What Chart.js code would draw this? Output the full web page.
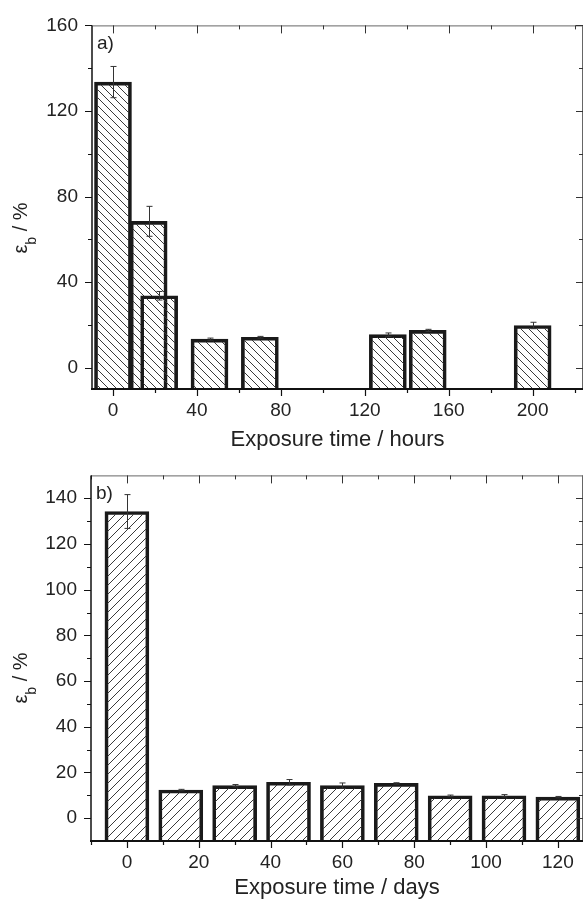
<!DOCTYPE html>
<html>
<head>
<meta charset="utf-8">
<script src="https://cdn.jsdelivr.net/npm/chart.js@4"></script>
<style>
body { margin: 0; background: #fff; }
canvas { display: block; }
</style>
</head>
<body>
<canvas id="chartA" width="584" height="450"></canvas>
<canvas id="chartB" width="584" height="449"></canvas>
<script>
// panel a) exposure in hours
const hoursX = [0, 17, 22, 46, 70, 131, 150, 200];
const hoursStrain = [133.5, 68.4, 33.6, 13.3, 14.2, 15.4, 17.4, 19.7];
const hoursError = [7.3, 7.0, 2.0, 0.5, 0.4, 0.8, 0.5, 1.5];
const hoursMajorX = [0, 40, 80, 120, 160, 200];
const hoursMinorX = [20, 60, 100, 140, 180, 220];
const hoursMajorY = [0, 40, 80, 120, 160];
const hoursMinorY = [20, 60, 100, 140];

// panel b) exposure in days
const daysX = [0, 15, 30, 45, 60, 75, 90, 105, 120];
const daysStrain = [134.2, 12.3, 14.2, 15.7, 14.2, 15.2, 9.8, 9.8, 9.2];
const daysError = [7.4, 0.3, 0.5, 1.2, 1.2, 0.3, 0.3, 0.5, 0.3];
const daysMajorX = [0, 20, 40, 60, 80, 100, 120];
const daysMinorX = [-10, 10, 30, 50, 70, 90, 110];
const daysMajorY = [0, 20, 40, 60, 80, 100, 120, 140];
const daysMinorY = [10, 30, 50, 70, 90, 110, 130];

Chart.defaults.font.family = "'Liberation Sans', Arial, sans-serif";
Chart.defaults.color = "#222";

function hatch(canvas, size, dir) {
    const c = document.createElement("canvas");
    c.width = size;
    c.height = size;
    const g = c.getContext("2d");
    g.strokeStyle = "#3a3a3a";
    g.lineWidth = 1;
    g.beginPath();
    for (let k = -1; k <= 1; k++) {
        if (dir === "back") {
            g.moveTo(k * size, 0);
            g.lineTo(k * size + size, size);
        } else {
            g.moveTo(k * size, size);
            g.lineTo(k * size + size, 0);
        }
    }
    g.stroke();
    return canvas.getContext("2d").createPattern(c, "repeat");
}

const framePlugin = {
    id: "frame",
    afterDatasetsDraw(chart, args, opts) {
        const ctx = chart.ctx;
        const xs = chart.scales.x, ys = chart.scales.y;
        ctx.save();
        ctx.strokeStyle = "#333";
        ctx.lineWidth = 1;
        opts.errors.forEach((e, i) => {
            const d = chart.data.datasets[0].data[i];
            const px = Math.round(xs.getPixelForValue(d.x)) + 0.5;
            const y1 = ys.getPixelForValue(d.y + e);
            const y2 = ys.getPixelForValue(d.y - e);
            ctx.beginPath();
            ctx.moveTo(px, y1); ctx.lineTo(px, y2);
            ctx.moveTo(px - 3, y1); ctx.lineTo(px + 3, y1);
            ctx.moveTo(px - 3, y2); ctx.lineTo(px + 3, y2);
            ctx.stroke();
        });
        ctx.restore();
    },
    afterDraw(chart, args, opts) {
        const ctx = chart.ctx;
        const { left, right, top, bottom } = chart.chartArea;
        const xs = chart.scales.x, ys = chart.scales.y;
        ctx.save();

        // top and right frame, lighter
        ctx.strokeStyle = "#666";
        ctx.lineWidth = 1;
        ctx.beginPath();
        ctx.moveTo(left, top + 0.5); ctx.lineTo(right, top + 0.5);
        ctx.moveTo(right - 0.5, top); ctx.lineTo(right - 0.5, bottom);
        ctx.stroke();

        // ticks pointing in on top / right
        ctx.strokeStyle = "#333";
        ctx.beginPath();
        opts.majorX.forEach(v => { const p = Math.round(xs.getPixelForValue(v)) + 0.5; ctx.moveTo(p, top); ctx.lineTo(p, top + 8); });
        opts.minorX.forEach(v => { const p = Math.round(xs.getPixelForValue(v)) + 0.5; ctx.moveTo(p, top); ctx.lineTo(p, top + 4); });
        opts.majorY.forEach(v => { const p = Math.round(ys.getPixelForValue(v)) + 0.5; ctx.moveTo(right, p); ctx.lineTo(right - 7, p); });
        opts.minorY.forEach(v => { const p = Math.round(ys.getPixelForValue(v)) + 0.5; ctx.moveTo(right, p); ctx.lineTo(right - 4, p); });
        ctx.stroke();

        // left and bottom axes
        ctx.strokeStyle = "#111";
        ctx.lineWidth = 1.5;
        ctx.beginPath();
        ctx.moveTo(left, top); ctx.lineTo(left, bottom);
        ctx.stroke();
        ctx.lineWidth = 2;
        ctx.beginPath();
        ctx.moveTo(left - 1, bottom); ctx.lineTo(right, bottom);
        ctx.stroke();

        ctx.lineWidth = 1.2;
        ctx.beginPath();
        opts.majorX.forEach(v => { const p = Math.round(xs.getPixelForValue(v)) + 0.5; ctx.moveTo(p, bottom); ctx.lineTo(p, bottom + 7); });
        opts.minorX.forEach(v => { const p = Math.round(xs.getPixelForValue(v)) + 0.5; ctx.moveTo(p, bottom); ctx.lineTo(p, bottom + 4); });
        opts.majorY.forEach(v => { const p = Math.round(ys.getPixelForValue(v)) + 0.5; ctx.moveTo(left, p); ctx.lineTo(left - 7, p); });
        opts.minorY.forEach(v => { const p = Math.round(ys.getPixelForValue(v)) + 0.5; ctx.moveTo(left, p); ctx.lineTo(left - 4, p); });
        ctx.stroke();

        // texts
        ctx.fillStyle = "#222";
        ctx.font = "19px 'Liberation Sans', Arial, sans-serif";
        ctx.textAlign = "left";
        ctx.textBaseline = "alphabetic";
        ctx.fillText(opts.panel, left + 5, top + 24);

        ctx.font = "22px 'Liberation Sans', Arial, sans-serif";
        ctx.textAlign = "center";
        ctx.fillText(opts.xTitle, (left + right) / 2, opts.xTitleY);

        // y title: epsilon with subscript b
        ctx.translate(27, opts.yTitleY);
        ctx.rotate(-Math.PI / 2);
        ctx.textAlign = "left";
        const big = "20px 'Liberation Sans', Arial, sans-serif";
        const small = "14px 'Liberation Sans', Arial, sans-serif";
        ctx.font = big;
        const w1 = ctx.measureText("ε").width;
        const w3 = ctx.measureText(" / %").width;
        ctx.font = small;
        const w2 = ctx.measureText("b").width;
        let x0 = -(w1 + w2 + w3) / 2;
        ctx.font = big;
        ctx.fillText("ε", x0, 0);
        ctx.font = small;
        ctx.fillText("b", x0 + w1, 9);
        ctx.font = big;
        ctx.fillText(" / %", x0 + w1 + w2, 0);

        ctx.restore();
    }
};

function createPanel(canvasId, xValues, yValues, errors, cfg) {
    const canvas = document.getElementById(canvasId);
    return new Chart(canvas, {
        type: "bar",
        data: {
            datasets: [{
                data: xValues.map((x, i) => ({ x: x, y: yValues[i] })),
                base: cfg.yMin,
                backgroundColor: hatch(canvas, cfg.hatchSize, cfg.hatchDir),
                borderColor: "#1a1a1a",
                borderWidth: 3,
                barThickness: cfg.barPx
            }]
        },
        options: {
            responsive: false,
            animation: false,
            layout: { padding: { top: cfg.padTop, right: 1, left: 0, bottom: 0 } },
            plugins: {
                legend: { display: false },
                tooltip: { enabled: false },
                frame: {
                    panel: cfg.panel,
                    xTitle: cfg.xTitle,
                    xTitleY: cfg.xTitleY,
                    yTitleY: cfg.yTitleY,
                    majorX: cfg.majorX,
                    minorX: cfg.minorX,
                    majorY: cfg.majorY,
                    minorY: cfg.minorY,
                    errors: errors
                }
            },
            scales: {
                x: {
                    type: "linear",
                    offset: false,
                    min: cfg.xMin,
                    max: cfg.xMax,
                    grid: { display: false, drawTicks: false },
                    border: { display: false },
                    ticks: {
                        autoSkip: false,
                        maxRotation: 0,
                        padding: 10,
                        font: { size: 19 }
                    },
                    afterBuildTicks: s => { s.ticks = cfg.majorX.map(v => ({ value: v })); },
                    afterFit: s => { s.height = cfg.xAxisH; }
                },
                y: {
                    min: cfg.yMin,
                    max: cfg.yMax,
                    grid: { display: false, drawTicks: false },
                    border: { display: false },
                    ticks: {
                        autoSkip: false,
                        padding: 14,
                        font: { size: 19 }
                    },
                    afterBuildTicks: s => { s.ticks = cfg.majorY.map(v => ({ value: v })); },
                    afterFit: s => { s.width = cfg.yAxisW; }
                }
            }
        },
        plugins: [framePlugin]
    });
}

createPanel("chartA", hoursX, hoursStrain, hoursError, {
    panel: "a)", xTitle: "Exposure time / hours",
    xMin: -10, xMax: 224,
    yMin: -10, yMax: 160,
    majorX: hoursMajorX, minorX: hoursMinorX, majorY: hoursMajorY, minorY: hoursMinorY,
    hatchSize: 8, hatchDir: "back", barPx: 37,
    padTop: 21, xAxisH: 61, yAxisW: 92, xTitleY: 446, yTitleY: 228
});

createPanel("chartB", daysX, daysStrain, daysError, {
    panel: "b)", xTitle: "Exposure time / days",
    xMin: -10, xMax: 127,
    yMin: -10, yMax: 150,
    majorX: daysMajorX, minorX: daysMinorX, majorY: daysMajorY, minorY: daysMinorY,
    hatchSize: 9, hatchDir: "fwd", barPx: 44,
    padTop: 23, xAxisH: 58, yAxisW: 91, xTitleY: 444, yTitleY: 228
});
</script>
</body>
</html>
